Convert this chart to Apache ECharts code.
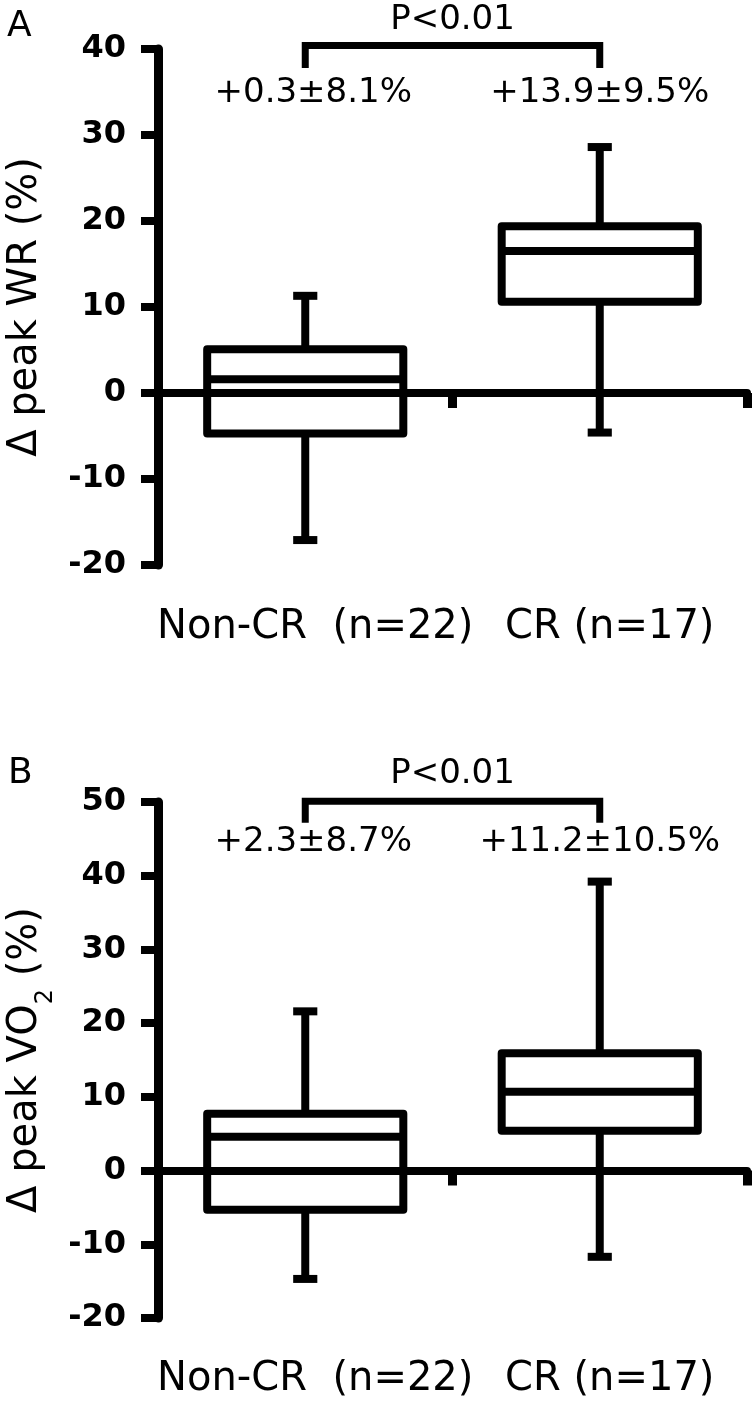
<!DOCTYPE html>
<html><head><meta charset="utf-8">
<script src="https://cdn.jsdelivr.net/npm/echarts@6/dist/echarts.min.js"></script>
<style>html,body{margin:0;padding:0;background:#fff}#c{width:755px;height:1405px}</style>
</head><body><div id="c"></div>
<script>
// ---- data ----
const categories = ['Non-CR  (n=22)', 'CR (n=17)'];
const yTicksWR = [-20, -10, 0, 10, 20, 30, 40];
const yTicksVO2 = [-20, -10, 0, 10, 20, 30, 40, 50];
// panel A: Δ peak WR (%)
const wrLow = [-17.1, -4.6];
const wrQ1 = [-4.7, 10.6];
const wrMedian = [1.6, 16.5];
const wrQ3 = [5.1, 19.4];
const wrHigh = [11.3, 28.6];
const wrStats = ['+0.3±8.1%', '+13.9±9.5%'];
// panel B: Δ peak VO2 (%)
const vo2Low = [-14.7, -11.7];
const vo2Q1 = [-5.3, 5.4];
const vo2Median = [4.6, 10.7];
const vo2Q3 = [7.7, 15.9];
const vo2High = [21.6, 39.2];
const vo2Stats = ['+2.3±8.7%', '+11.2±10.5%'];
const pText = 'P<0.01';

// ---- styles ----
const FONT = 'DejaVu Sans';
const BLACK = '#000';
const LW = 8;

function boxData(lo, q1, md, q3, hi) {
  return categories.map((c, i) => [i, lo[i], q1[i], md[i], q3[i], hi[i]]);
}

function renderBox(params, api) {
  const cat = api.value(0);
  const lo = api.coord([cat, api.value(1)]);
  const q1 = api.coord([cat, api.value(2)]);
  const md = api.coord([cat, api.value(3)]);
  const q3 = api.coord([cat, api.value(4)]);
  const hi = api.coord([cat, api.value(5)]);
  const band = api.size([1, 0])[0];
  const hw = band * 0.333;
  const cw = band * 0.041;
  const x = md[0];
  const st = { stroke: BLACK, lineWidth: LW, fill: null, lineJoin: 'round' };
  return {
    type: 'group', children: [
      { type: 'line', shape: { x1: x, y1: hi[1], x2: x, y2: q3[1] }, style: st },
      { type: 'line', shape: { x1: x, y1: q1[1], x2: x, y2: lo[1] }, style: st },
      { type: 'line', shape: { x1: x - cw, y1: hi[1], x2: x + cw, y2: hi[1] }, style: st },
      { type: 'line', shape: { x1: x - cw, y1: lo[1], x2: x + cw, y2: lo[1] }, style: st },
      { type: 'rect', shape: { x: x - hw, y: q3[1], width: 2 * hw, height: q1[1] - q3[1] }, style: st },
      { type: 'line', shape: { x1: x - hw, y1: md[1], x2: x + hw, y2: md[1] }, style: st }
    ]
  };
}

function makeAnnot(stats, bracketY, dropY, pY, statY) {
  return function (params, api) {
    const l = api.coord([0, bracketY]);
    const r = api.coord([1, bracketY]);
    const ld = api.coord([0, dropY]);
    const rd = api.coord([1, dropY]);
    const pt = api.coord([0.5, pY]);
    const s0 = api.coord([0, statY]);
    const s1 = api.coord([1, statY]);
    const mid = (l[0] + r[0]) / 2;
    const tst = { fill: BLACK, fontFamily: FONT, fontSize: 34, align: 'center', verticalAlign: 'middle' };
    return {
      type: 'group', children: [
        { type: 'polyline', shape: { points: [[ld[0], ld[1]], [l[0], l[1]], [r[0], r[1]], [rd[0], rd[1]]] },
          style: { stroke: BLACK, lineWidth: 7, fill: null, lineJoin: 'miter' } },
        { type: 'text', style: Object.assign({ text: pText, x: mid, y: pt[1] }, tst) },
        { type: 'text', style: Object.assign({ text: stats[0], x: s0[0] + 8, y: s0[1] }, tst) },
        { type: 'text', style: Object.assign({ text: stats[1], x: s1[0], y: s1[1] }, tst) }
      ]
    };
  };
}

function xAxes(gi, labelMargin) {
  return [
    { gridIndex: gi, type: 'category', data: categories,
      axisLine: { show: true, onZero: true, lineStyle: { color: BLACK, width: 8 } },
      axisTick: { show: true, length: 15, lineStyle: { color: BLACK, width: 9 } },
      axisLabel: { show: false }, splitLine: { show: false } },
    { gridIndex: gi, type: 'category', data: categories, position: 'bottom',
      axisLine: { show: false, onZero: false }, axisTick: { show: false }, splitLine: { show: false },
      axisLabel: { show: true, interval: 0, hideOverlap: false, margin: labelMargin, fontSize: 40, fontFamily: FONT, color: BLACK, padding: [0, 0, 0, 20] } }
  ];
}

function yAxis(gi, ticks, name, gap, rich) {
  return {
    gridIndex: gi, type: 'value', min: ticks[0], max: ticks[ticks.length - 1], interval: ticks[1] - ticks[0],
    axisLine: { show: true, lineStyle: { color: BLACK, width: 9 } },
    axisTick: { show: true, length: 17, lineStyle: { color: BLACK, width: 8 } },
    axisLabel: { margin: 32, fontSize: 32, fontWeight: 'bold', fontFamily: FONT, color: BLACK },
    splitLine: { show: false },
    name: name, nameLocation: 'middle', nameGap: gap,
    nameTextStyle: Object.assign({ fontSize: 40, fontFamily: FONT, color: BLACK }, rich ? { rich: rich } : {})
  };
}

const chart = echarts.init(document.getElementById('c'), null, { renderer: 'canvas' });
chart.setOption({
  animation: false,
  backgroundColor: '#fff',
  grid: [
    { left: 158, top: 49, width: 589, height: 516, containLabel: false, outerBoundsMode: 'none' },
    { left: 158, top: 802, width: 589, height: 516, containLabel: false, outerBoundsMode: 'none' }
  ],
  xAxis: xAxes(0, 43).concat(xAxes(1, 42)),
  yAxis: [
    yAxis(0, yTicksWR, 'Δ peak WR (%)', 112),
    yAxis(1, yTicksVO2, 'Δ peak VO{sub|2} (%)', 100,
      { sub: { fontSize: 24, fontFamily: FONT, color: BLACK, padding: [40, 0, 0, 0] } })
  ],
  graphic: [
    { type: 'text', left: 7, top: 9, style: { text: 'A', fontSize: 36, fontFamily: FONT, fill: BLACK } },
    { type: 'text', left: 8, top: 756, style: { text: 'B', fontSize: 36, fontFamily: FONT, fill: BLACK } }
  ],
  series: [
    { type: 'custom', xAxisIndex: 0, yAxisIndex: 0, clip: false, silent: true,
      data: boxData(wrLow, wrQ1, wrMedian, wrQ3, wrHigh), encode: { x: 0, y: [1, 2, 3, 4, 5] },
      renderItem: renderBox },
    { type: 'custom', xAxisIndex: 2, yAxisIndex: 1, clip: false, silent: true,
      data: boxData(vo2Low, vo2Q1, vo2Median, vo2Q3, vo2High), encode: { x: 0, y: [1, 2, 3, 4, 5] },
      renderItem: renderBox },
    { type: 'custom', xAxisIndex: 0, yAxisIndex: 0, clip: false, silent: true,
      data: [[0, 0]], renderItem: makeAnnot(wrStats, 40.4, 37.8, 43.4, 34.9) },
    { type: 'custom', xAxisIndex: 2, yAxisIndex: 1, clip: false, silent: true,
      data: [[0, 0]], renderItem: makeAnnot(vo2Stats, 50.1, 47.2, 53.8, 44.5) }
  ]
});
</script></body></html>
